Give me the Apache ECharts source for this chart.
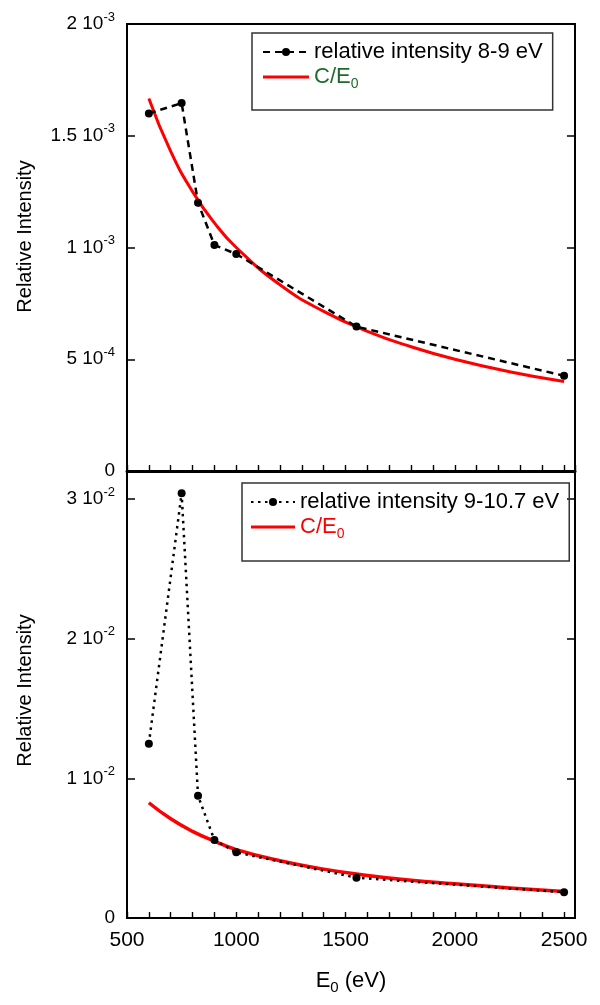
<!DOCTYPE html>
<html>
<head>
<meta charset="utf-8">
<script src="https://cdn.jsdelivr.net/npm/echarts@6/dist/echarts.min.js"></script>
<style>
  html, body { margin: 0; padding: 0; background: #fff; }
  #chart { width: 600px; height: 1005px; }
</style>
</head>
<body>
<div id="chart"></div>
<script>
// measured points (E0 in eV)
const energies = [600, 750, 825, 900, 1000, 1550, 2500];
const intensity8to9 = [1.60e-3, 1.646e-3, 1.20e-3, 1.011e-3, 0.971e-3, 0.646e-3, 0.426e-3];
const intensity9to107 = [1.248e-2, 3.04e-2, 0.875e-2, 0.558e-2, 0.47e-2, 0.289e-2, 0.184e-2];

// C/E0 curves
const fitEnergies = [600, 700, 800, 900, 1000, 1200, 1400, 1600, 1800, 2000, 2250, 2500];
const fit8to9 = [1.667e-3, 1.43e-3, 1.25e-3, 1.11e-3, 1.0e-3, 0.833e-3, 0.714e-3, 0.625e-3, 0.556e-3, 0.50e-3, 0.444e-3, 0.40e-3];
const fit9to107 = [0.825e-2, 0.71e-2, 0.62e-2, 0.55e-2, 0.49e-2, 0.41e-2, 0.35e-2, 0.305e-2, 0.27e-2, 0.245e-2, 0.215e-2, 0.19e-2];

// axis ranges
const xRange = [500, 2550];
const xMajor = 500, xMinor = 100;
const yTopRange = [0, 2e-3], yTopStep = 5e-4;
const yBotRange = [0, 0.032], yBotStep = 0.01;

const FONT = 'Liberation Sans, Arial, Helvetica, sans-serif';
const PANEL_H = 447;
const pairs = (xs, ys) => xs.map((x, i) => [x, ys[i]]);

// "1.5 10^-3" style label
function sciLabel(v) {
  if (Math.abs(v) < 1e-12) return '{m|0}';
  const e = Math.floor(Math.log10(v) + 1e-9);
  const m = Math.round(v / Math.pow(10, e) * 100) / 100;
  return '{m|' + m + ' 10}{e|' + e + '}';
}
const sciRich = {
  m: { fontSize: 19, fontFamily: FONT, color: '#000' },
  e: { fontSize: 13, fontFamily: FONT, color: '#000', padding: [0, 0, 14, 0] }
};

const chart = echarts.init(document.getElementById('chart'));

const grids = [
  { left: 127, top: 24, width: 448, height: PANEL_H },
  { left: 127, top: 471, width: 448, height: PANEL_H }
].map(g => Object.assign(g, { show: true, borderColor: '#000', borderWidth: 2, outerBoundsMode: 'none' }));

// ticks every 100, labels only on multiples of 500
function xAxisFor(gi, withLabels) {
  return {
    gridIndex: gi, type: 'value', min: xRange[0], max: xRange[1], interval: xMinor,
    position: 'bottom',
    axisLine: { show: true, onZero: false, lineStyle: { color: '#000', width: gi === 0 ? 3 : 2 } },
    axisTick: { show: true, inside: true, length: 6, lineStyle: { color: '#000', width: 1.4 } },
    axisLabel: {
      show: withLabels, showMaxLabel: false, margin: 12, interval: 0, hideOverlap: false,
      fontSize: 21, fontFamily: FONT, color: '#000',
      formatter: v => (v % xMajor === 0 ? String(v) : '')
    },
    splitLine: { show: false },
    name: withLabels ? '{t|E}{s|0}{t| (eV)}' : '',
    nameLocation: 'middle', nameGap: 48,
    nameTextStyle: {
      rich: {
        t: { fontSize: 22, fontFamily: FONT, color: '#000' },
        s: { fontSize: 15, fontFamily: FONT, color: '#000', padding: [14, 0, 0, 0] }
      }
    }
  };
}

function yAxesFor(gi, range, step) {
  return [
    {
      gridIndex: gi, type: 'value', min: range[0], max: range[1], interval: step,
      position: 'left',
      axisLine: { show: true, onZero: false, lineStyle: { color: '#000', width: 2 } },
      axisTick: { show: true, inside: true, length: 8, lineStyle: { color: '#000', width: 1.5 } },
      axisLabel: {
        showMaxLabel: gi === 0, margin: 12,
        formatter: sciLabel, rich: sciRich
      },
      splitLine: { show: false },
      name: 'Relative Intensity', nameLocation: 'middle', nameGap: 92,
      nameTextStyle: {
        fontSize: 20, fontFamily: FONT, color: '#000',
        padding: gi === 0 ? [0, 0, 0, 22] : [0, 0, 0, 8]
      }
    },
    {
      gridIndex: gi, type: 'value', min: range[0], max: range[1], interval: step,
      position: 'right',
      axisLine: { show: true, onZero: false, lineStyle: { color: '#000', width: 2 } },
      axisTick: { show: true, inside: true, length: 8, lineStyle: { color: '#000', width: 1.5 } },
      axisLabel: { show: false },
      splitLine: { show: false }
    }
  ];
}

const lineIcon = 'path://M0,0 L46,0 L46,3 L0,3 Z';

const legendBase = {
  orient: 'vertical',
  borderColor: '#333', borderWidth: 1.5, borderRadius: 0,
  itemWidth: 46, itemHeight: 10, itemGap: 1,
  textStyle: {
    fontSize: 22, fontFamily: FONT, color: '#000', lineHeight: 24,
    rich: {
      t: { fontSize: 22, fontFamily: FONT, lineHeight: 24 },
      s: { fontSize: 14, fontFamily: FONT, padding: [14, 0, 0, 0] }
    }
  },
  formatter: name => name.indexOf('C/E') === 0 ? '{t|C/E}{s|0}' : name
};

const option = {
  animation: false,
  backgroundColor: '#fff',
  grid: grids,
  xAxis: [xAxisFor(0, false), xAxisFor(1, true)],
  yAxis: [...yAxesFor(0, yTopRange, yTopStep), ...yAxesFor(1, yBotRange, yBotStep)],
  legend: [
    Object.assign({}, legendBase, {
      left: 252, top: 33, padding: [7, 10, 19, 10],
      data: [
        { name: 'relative intensity 8-9 eV' },
        { name: 'C/E0 top', icon: lineIcon, textStyle: { color: '#1f6b2c' } }
      ]
    }),
    Object.assign({}, legendBase, {
      left: 242, top: 483, padding: [7, 10, 20, 8],
      itemWidth: 44,
      data: [
        { name: 'relative intensity 9-10.7 eV' },
        { name: 'C/E0 bottom', icon: lineIcon, textStyle: { color: '#ff0000' } }
      ]
    })
  ],
  series: [
    {
      name: 'C/E0 top', type: 'line', xAxisIndex: 0, yAxisIndex: 0,
      data: pairs(fitEnergies, fit8to9), smooth: true, symbol: 'none', z: 2,
      lineStyle: { color: '#ff0000', width: 3 }, itemStyle: { color: '#ff0000' }
    },
    {
      name: 'relative intensity 8-9 eV', type: 'line', xAxisIndex: 0, yAxisIndex: 0,
      data: pairs(energies, intensity8to9), symbol: 'circle', symbolSize: 8, z: 3,
      lineStyle: { color: '#000', width: 2.5, type: [7, 5] }, itemStyle: { color: '#000' }
    },
    {
      name: 'C/E0 bottom', type: 'line', xAxisIndex: 1, yAxisIndex: 2,
      data: pairs(fitEnergies, fit9to107), smooth: true, symbol: 'none', z: 2,
      lineStyle: { color: '#ff0000', width: 3.5 }, itemStyle: { color: '#ff0000' }
    },
    {
      name: 'relative intensity 9-10.7 eV', type: 'line', xAxisIndex: 1, yAxisIndex: 2,
      data: pairs(energies, intensity9to107), symbol: 'circle', symbolSize: 8, z: 3,
      lineStyle: { color: '#000', width: 2.5, type: [2.5, 4.5] }, itemStyle: { color: '#000' }
    }
  ]
};

chart.setOption(option);
</script>
</body>
</html>
